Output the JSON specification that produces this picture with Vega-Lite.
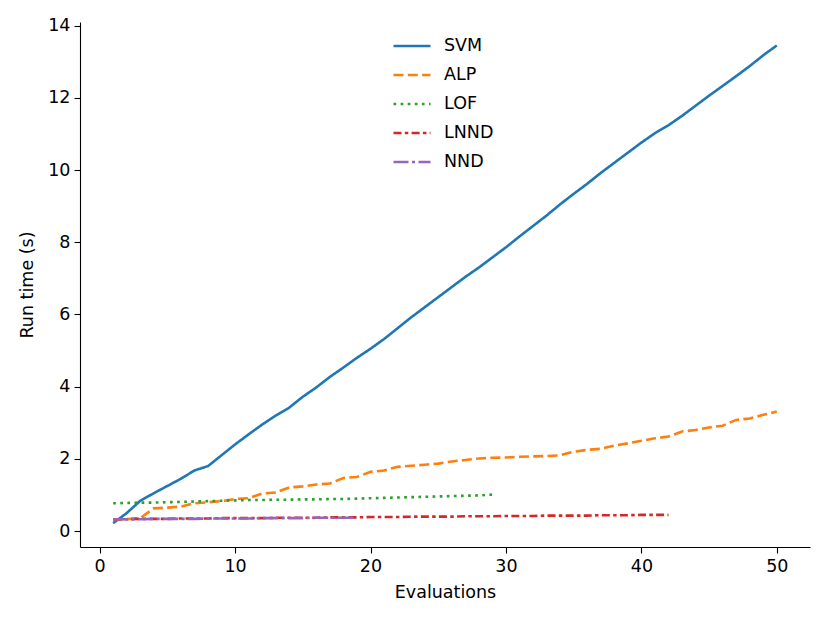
{
  "$schema": "https://vega.github.io/schema/vega-lite/v6.json",
  "width": 730,
  "height": 525,
  "autosize": {"type": "none"},
  "padding": {"left": 80, "top": 22, "right": 20, "bottom": 76},
  "data": {
    "values": [
      {"method": "SVM", "eval": 1, "time": 0.22}, {"method": "SVM", "eval": 2, "time": 0.5}, {"method": "SVM", "eval": 3, "time": 0.84},
      {"method": "SVM", "eval": 4, "time": 1.05}, {"method": "SVM", "eval": 5, "time": 1.25}, {"method": "SVM", "eval": 6, "time": 1.45},
      {"method": "SVM", "eval": 7, "time": 1.68}, {"method": "SVM", "eval": 8, "time": 1.8}, {"method": "SVM", "eval": 9, "time": 2.1},
      {"method": "SVM", "eval": 10, "time": 2.4}, {"method": "SVM", "eval": 11, "time": 2.68}, {"method": "SVM", "eval": 12, "time": 2.95},
      {"method": "SVM", "eval": 13, "time": 3.2}, {"method": "SVM", "eval": 14, "time": 3.42}, {"method": "SVM", "eval": 15, "time": 3.72},
      {"method": "SVM", "eval": 16, "time": 3.98}, {"method": "SVM", "eval": 17, "time": 4.27}, {"method": "SVM", "eval": 18, "time": 4.53},
      {"method": "SVM", "eval": 19, "time": 4.8}, {"method": "SVM", "eval": 20, "time": 5.05}, {"method": "SVM", "eval": 21, "time": 5.32},
      {"method": "SVM", "eval": 22, "time": 5.62}, {"method": "SVM", "eval": 23, "time": 5.92}, {"method": "SVM", "eval": 24, "time": 6.2},
      {"method": "SVM", "eval": 25, "time": 6.48}, {"method": "SVM", "eval": 26, "time": 6.76}, {"method": "SVM", "eval": 27, "time": 7.04},
      {"method": "SVM", "eval": 28, "time": 7.3}, {"method": "SVM", "eval": 29, "time": 7.58}, {"method": "SVM", "eval": 30, "time": 7.86},
      {"method": "SVM", "eval": 31, "time": 8.16}, {"method": "SVM", "eval": 32, "time": 8.45}, {"method": "SVM", "eval": 33, "time": 8.74},
      {"method": "SVM", "eval": 34, "time": 9.05}, {"method": "SVM", "eval": 35, "time": 9.34}, {"method": "SVM", "eval": 36, "time": 9.62},
      {"method": "SVM", "eval": 37, "time": 9.92}, {"method": "SVM", "eval": 38, "time": 10.2}, {"method": "SVM", "eval": 39, "time": 10.48},
      {"method": "SVM", "eval": 40, "time": 10.76}, {"method": "SVM", "eval": 41, "time": 11.02}, {"method": "SVM", "eval": 42, "time": 11.24},
      {"method": "SVM", "eval": 43, "time": 11.5}, {"method": "SVM", "eval": 44, "time": 11.78}, {"method": "SVM", "eval": 45, "time": 12.06},
      {"method": "SVM", "eval": 46, "time": 12.33}, {"method": "SVM", "eval": 47, "time": 12.6}, {"method": "SVM", "eval": 48, "time": 12.88},
      {"method": "SVM", "eval": 49, "time": 13.18}, {"method": "SVM", "eval": 50, "time": 13.45},

      {"method": "ALP", "eval": 1, "time": 0.31}, {"method": "ALP", "eval": 2, "time": 0.33}, {"method": "ALP", "eval": 3, "time": 0.36},
      {"method": "ALP", "eval": 4, "time": 0.63}, {"method": "ALP", "eval": 5, "time": 0.65}, {"method": "ALP", "eval": 6, "time": 0.68},
      {"method": "ALP", "eval": 7, "time": 0.77}, {"method": "ALP", "eval": 8, "time": 0.8}, {"method": "ALP", "eval": 9, "time": 0.83},
      {"method": "ALP", "eval": 10, "time": 0.89}, {"method": "ALP", "eval": 11, "time": 0.91}, {"method": "ALP", "eval": 12, "time": 1.04},
      {"method": "ALP", "eval": 13, "time": 1.07}, {"method": "ALP", "eval": 14, "time": 1.21}, {"method": "ALP", "eval": 15, "time": 1.24},
      {"method": "ALP", "eval": 16, "time": 1.29}, {"method": "ALP", "eval": 17, "time": 1.32}, {"method": "ALP", "eval": 18, "time": 1.47},
      {"method": "ALP", "eval": 19, "time": 1.5}, {"method": "ALP", "eval": 20, "time": 1.64}, {"method": "ALP", "eval": 21, "time": 1.68},
      {"method": "ALP", "eval": 22, "time": 1.78}, {"method": "ALP", "eval": 23, "time": 1.81}, {"method": "ALP", "eval": 24, "time": 1.84},
      {"method": "ALP", "eval": 25, "time": 1.87}, {"method": "ALP", "eval": 26, "time": 1.93}, {"method": "ALP", "eval": 27, "time": 1.97},
      {"method": "ALP", "eval": 28, "time": 2.01}, {"method": "ALP", "eval": 29, "time": 2.03}, {"method": "ALP", "eval": 30, "time": 2.04},
      {"method": "ALP", "eval": 31, "time": 2.06}, {"method": "ALP", "eval": 32, "time": 2.07}, {"method": "ALP", "eval": 33, "time": 2.08},
      {"method": "ALP", "eval": 34, "time": 2.1}, {"method": "ALP", "eval": 35, "time": 2.2}, {"method": "ALP", "eval": 36, "time": 2.25},
      {"method": "ALP", "eval": 37, "time": 2.28}, {"method": "ALP", "eval": 38, "time": 2.37}, {"method": "ALP", "eval": 39, "time": 2.43},
      {"method": "ALP", "eval": 40, "time": 2.5}, {"method": "ALP", "eval": 41, "time": 2.57}, {"method": "ALP", "eval": 42, "time": 2.62},
      {"method": "ALP", "eval": 43, "time": 2.76}, {"method": "ALP", "eval": 44, "time": 2.8}, {"method": "ALP", "eval": 45, "time": 2.87},
      {"method": "ALP", "eval": 46, "time": 2.92}, {"method": "ALP", "eval": 47, "time": 3.08}, {"method": "ALP", "eval": 48, "time": 3.12},
      {"method": "ALP", "eval": 49, "time": 3.22}, {"method": "ALP", "eval": 50, "time": 3.31},

      {"method": "LOF", "eval": 1, "time": 0.77}, {"method": "LOF", "eval": 2, "time": 0.78}, {"method": "LOF", "eval": 3, "time": 0.79},
      {"method": "LOF", "eval": 4, "time": 0.79}, {"method": "LOF", "eval": 5, "time": 0.8}, {"method": "LOF", "eval": 6, "time": 0.81},
      {"method": "LOF", "eval": 7, "time": 0.82}, {"method": "LOF", "eval": 8, "time": 0.83}, {"method": "LOF", "eval": 9, "time": 0.84},
      {"method": "LOF", "eval": 10, "time": 0.85}, {"method": "LOF", "eval": 11, "time": 0.86}, {"method": "LOF", "eval": 12, "time": 0.86},
      {"method": "LOF", "eval": 13, "time": 0.87}, {"method": "LOF", "eval": 14, "time": 0.87}, {"method": "LOF", "eval": 15, "time": 0.88},
      {"method": "LOF", "eval": 16, "time": 0.88}, {"method": "LOF", "eval": 17, "time": 0.89}, {"method": "LOF", "eval": 18, "time": 0.89},
      {"method": "LOF", "eval": 19, "time": 0.9}, {"method": "LOF", "eval": 20, "time": 0.91}, {"method": "LOF", "eval": 21, "time": 0.92},
      {"method": "LOF", "eval": 22, "time": 0.93}, {"method": "LOF", "eval": 23, "time": 0.94}, {"method": "LOF", "eval": 24, "time": 0.95},
      {"method": "LOF", "eval": 25, "time": 0.96}, {"method": "LOF", "eval": 26, "time": 0.97}, {"method": "LOF", "eval": 27, "time": 0.98},
      {"method": "LOF", "eval": 28, "time": 0.99}, {"method": "LOF", "eval": 29, "time": 1.01},

      {"method": "LNND", "eval": 1, "time": 0.33}, {"method": "LNND", "eval": 2, "time": 0.33}, {"method": "LNND", "eval": 3, "time": 0.34},
      {"method": "LNND", "eval": 4, "time": 0.34}, {"method": "LNND", "eval": 5, "time": 0.34}, {"method": "LNND", "eval": 6, "time": 0.35},
      {"method": "LNND", "eval": 7, "time": 0.35}, {"method": "LNND", "eval": 8, "time": 0.35}, {"method": "LNND", "eval": 9, "time": 0.36},
      {"method": "LNND", "eval": 10, "time": 0.36}, {"method": "LNND", "eval": 11, "time": 0.36}, {"method": "LNND", "eval": 12, "time": 0.36},
      {"method": "LNND", "eval": 13, "time": 0.37}, {"method": "LNND", "eval": 14, "time": 0.37}, {"method": "LNND", "eval": 15, "time": 0.37},
      {"method": "LNND", "eval": 16, "time": 0.37}, {"method": "LNND", "eval": 17, "time": 0.38}, {"method": "LNND", "eval": 18, "time": 0.38},
      {"method": "LNND", "eval": 19, "time": 0.38}, {"method": "LNND", "eval": 20, "time": 0.39}, {"method": "LNND", "eval": 21, "time": 0.39},
      {"method": "LNND", "eval": 22, "time": 0.39}, {"method": "LNND", "eval": 23, "time": 0.4}, {"method": "LNND", "eval": 24, "time": 0.4},
      {"method": "LNND", "eval": 25, "time": 0.4}, {"method": "LNND", "eval": 26, "time": 0.4}, {"method": "LNND", "eval": 27, "time": 0.41},
      {"method": "LNND", "eval": 28, "time": 0.41}, {"method": "LNND", "eval": 29, "time": 0.41}, {"method": "LNND", "eval": 30, "time": 0.42},
      {"method": "LNND", "eval": 31, "time": 0.42}, {"method": "LNND", "eval": 32, "time": 0.42}, {"method": "LNND", "eval": 33, "time": 0.43},
      {"method": "LNND", "eval": 34, "time": 0.43}, {"method": "LNND", "eval": 35, "time": 0.43}, {"method": "LNND", "eval": 36, "time": 0.43},
      {"method": "LNND", "eval": 37, "time": 0.44}, {"method": "LNND", "eval": 38, "time": 0.44}, {"method": "LNND", "eval": 39, "time": 0.44},
      {"method": "LNND", "eval": 40, "time": 0.45}, {"method": "LNND", "eval": 41, "time": 0.45}, {"method": "LNND", "eval": 42, "time": 0.45},

      {"method": "NND", "eval": 1, "time": 0.33}, {"method": "NND", "eval": 2, "time": 0.33}, {"method": "NND", "eval": 3, "time": 0.33},
      {"method": "NND", "eval": 4, "time": 0.34}, {"method": "NND", "eval": 5, "time": 0.34}, {"method": "NND", "eval": 6, "time": 0.34},
      {"method": "NND", "eval": 7, "time": 0.34}, {"method": "NND", "eval": 8, "time": 0.35}, {"method": "NND", "eval": 9, "time": 0.35},
      {"method": "NND", "eval": 10, "time": 0.35}, {"method": "NND", "eval": 11, "time": 0.35}, {"method": "NND", "eval": 12, "time": 0.36},
      {"method": "NND", "eval": 13, "time": 0.36}, {"method": "NND", "eval": 14, "time": 0.36}, {"method": "NND", "eval": 15, "time": 0.36},
      {"method": "NND", "eval": 16, "time": 0.37}, {"method": "NND", "eval": 17, "time": 0.37}, {"method": "NND", "eval": 18, "time": 0.37},
      {"method": "NND", "eval": 19, "time": 0.37}
    ]
  },
  "mark": {"type": "line", "strokeWidth": 2.6, "strokeCap": "butt", "clip": true},
  "encoding": {
    "x": {
      "field": "eval",
      "type": "quantitative",
      "title": "Evaluations",
      "scale": {"domain": [-1.45, 52.45], "nice": false, "zero": false},
      "axis": {"values": [0, 10, 20, 30, 40, 50], "titlePadding": 9}
    },
    "y": {
      "field": "time",
      "type": "quantitative",
      "title": "Run time (s)",
      "scale": {"domain": [-0.44, 14.1], "nice": false, "zero": false},
      "axis": {"values": [0, 2, 4, 6, 8, 10, 12, 14], "titlePadding": 11}
    },
    "color": {
      "field": "method",
      "type": "nominal",
      "title": null,
      "scale": {
        "domain": ["SVM", "ALP", "LOF", "LNND", "NND"],
        "range": ["#1f77b4", "#ff7f0e", "#2ca02c", "#d62728", "#9467bd"]
      }
    },
    "strokeDash": {
      "field": "method",
      "type": "nominal",
      "title": null,
      "scale": {
        "domain": ["SVM", "ALP", "LOF", "LNND", "NND"],
        "range": [[1, 0], [10, 4.3], [2.7, 4.4], [8, 3.3, 3.5, 3.3], [15, 3.5, 3, 3.5]]
      }
    }
  },
  "config": {
    "view": {"stroke": null},
    "font": "DejaVu Sans",
    "axis": {
      "grid": false,
      "domainColor": "black",
      "domainWidth": 1.1,
      "tickColor": "black",
      "tickWidth": 1.1,
      "tickSize": 6,
      "labelColor": "black",
      "labelFont": "DejaVu Sans",
      "labelFontSize": 17.5,
      "labelPadding": 4,
      "titleColor": "black",
      "titleFont": "DejaVu Sans",
      "titleFontSize": 17.5,
      "titleFontWeight": "normal"
    },
    "legend": {
      "orient": "none",
      "legendX": 312,
      "legendY": 4,
      "symbolType": "stroke",
      "symbolSize": 1369,
      "symbolStrokeWidth": 2.6,
      "labelFont": "DejaVu Sans",
      "labelFontSize": 17.5,
      "labelColor": "black",
      "labelOffset": 12,
      "rowPadding": 0,
      "offset": 0,
      "labelLimit": 200,
      "symbolLimit": 10
    }
  }
}
